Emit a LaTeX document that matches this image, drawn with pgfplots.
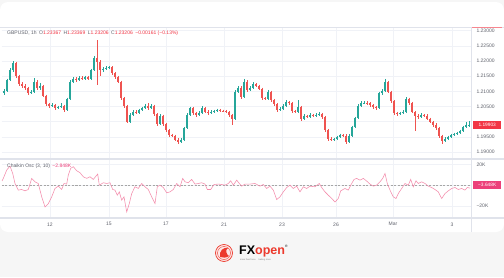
\documentclass[border=0pt]{standalone}
\usepackage{pgfplots}
\usepackage{pgfplotstable}
\pgfplotsset{compat=1.18}
\usepackage{fontspec}
\setmainfont{Liberation Sans}
\definecolor{upc}{RGB}{38,166,154}
\definecolor{dnc}{RGB}{239,83,80}
\definecolor{gridc}{RGB}{240,242,247}
\definecolor{sepc}{RGB}{224,227,235}
\definecolor{txtc}{RGB}{95,98,108}
\definecolor{oscc}{RGB}{244,140,172}
\definecolor{oscbox}{RGB}{236,64,122}
\definecolor{pricered}{RGB}{242,54,69}
\definecolor{fxred}{RGB}{236,58,45}
\definecolor{bgc}{RGB}{246,246,246}

\pgfplotstableread{
x o h l c
4 1.2094 1.2108 1.2088 1.2101
7 1.2101 1.2142 1.2097 1.2137
10 1.2137 1.2176 1.2133 1.2170
13 1.2170 1.2199 1.2165 1.2193
31 1.2094 1.2104 1.2090 1.2098
34 1.2098 1.2144 1.2095 1.2131
40 1.2111 1.2128 1.2106 1.2118
52 1.2052 1.2061 1.2048 1.2055
58 1.2045 1.2053 1.2041 1.2048
61 1.2048 1.2060 1.2044 1.2052
67 1.2038 1.2079 1.2035 1.2075
70 1.2075 1.2136 1.2072 1.2131
73 1.2131 1.2147 1.2126 1.2141
79 1.2137 1.2150 1.2133 1.2144
85 1.2142 1.2152 1.2139 1.2147
91 1.2141 1.2175 1.2138 1.2170
94 1.2170 1.2216 1.2166 1.2210
103 1.2170 1.2180 1.2165 1.2174
106 1.2174 1.2182 1.2170 1.2177
109 1.2177 1.2184 1.2173 1.2179
130 1.1999 1.2027 1.1995 1.2022
133 1.2022 1.2038 1.2018 1.2032
139 1.2030 1.2043 1.2026 1.2038
142 1.2038 1.2050 1.2034 1.2045
145 1.2045 1.2059 1.2041 1.2052
151 1.2045 1.2058 1.2041 1.2052
160 1.1992 1.2024 1.1988 1.2019
181 1.1933 1.1945 1.1929 1.1940
184 1.1940 1.1983 1.1936 1.1979
187 1.1979 1.2027 1.1975 1.2022
190 1.2022 1.2050 1.2018 1.2045
199 1.2022 1.2034 1.2018 1.2028
202 1.2028 1.2051 1.2024 1.2045
211 1.2028 1.2038 1.2024 1.2032
214 1.2032 1.2040 1.2028 1.2035
217 1.2035 1.2043 1.2031 1.2038
235 1.2008 1.2104 1.2004 1.2098
238 1.2098 1.2117 1.2093 1.2111
244 1.2081 1.2141 1.2077 1.2131
250 1.2104 1.2117 1.2100 1.2111
253 1.2111 1.2130 1.2107 1.2124
268 1.2075 1.2105 1.2071 1.2098
280 1.2038 1.2047 1.2034 1.2042
283 1.2042 1.2057 1.2038 1.2052
286 1.2052 1.2070 1.2048 1.2065
298 1.2032 1.2071 1.2028 1.2048
304 1.2009 1.2024 1.2005 1.2019
310 1.2017 1.2027 1.2013 1.2022
316 1.2020 1.2028 1.2016 1.2023
319 1.2023 1.2032 1.2019 1.2025
334 1.1940 1.1947 1.1936 1.1942
337 1.1942 1.1954 1.1938 1.1949
340 1.1949 1.1961 1.1945 1.1956
349 1.1933 1.1958 1.1929 1.1953
352 1.1953 1.1987 1.1949 1.1982
355 1.1982 1.2017 1.1978 1.2012
358 1.2012 1.2057 1.2008 1.2052
361 1.2052 1.2067 1.2048 1.2061
364 1.2061 1.2068 1.2057 1.2063
379 1.2045 1.2099 1.2041 1.2094
382 1.2094 1.2107 1.2089 1.2101
385 1.2101 1.2141 1.2097 1.2131
400 1.2025 1.2033 1.2021 1.2028
403 1.2028 1.2038 1.2024 1.2032
406 1.2032 1.2081 1.2028 1.2075
421 1.2015 1.2027 1.2011 1.2022
445 1.1936 1.1948 1.1932 1.1943
448 1.1943 1.1954 1.1939 1.1949
451 1.1949 1.1961 1.1945 1.1956
454 1.1956 1.1964 1.1952 1.1959
457 1.1959 1.1967 1.1955 1.1962
460 1.1962 1.1974 1.1958 1.1969
463 1.1969 1.1987 1.1965 1.1982
466 1.1982 1.1999 1.1978 1.1989
469 1.1989 1.2003 1.1984 1.1990
}\updata

\pgfplotstableread{
x o h l c
16 1.2193 1.2197 1.2144 1.2150
19 1.2150 1.2155 1.2119 1.2124
22 1.2124 1.2130 1.2112 1.2118
25 1.2118 1.2124 1.2105 1.2111
28 1.2111 1.2115 1.2088 1.2094
37 1.2131 1.2136 1.2105 1.2111
43 1.2118 1.2121 1.2080 1.2085
46 1.2085 1.2089 1.2052 1.2058
49 1.2058 1.2063 1.2046 1.2052
55 1.2055 1.2059 1.2040 1.2045
64 1.2052 1.2056 1.2031 1.2038
76 1.2141 1.2146 1.2132 1.2137
82 1.2144 1.2149 1.2137 1.2142
88 1.2147 1.2151 1.2137 1.2141
97 1.2210 1.2269 1.2121 1.2197
100 1.2197 1.2203 1.2150 1.2170
112 1.2179 1.2183 1.2155 1.2160
115 1.2160 1.2164 1.2142 1.2147
118 1.2147 1.2151 1.2126 1.2131
121 1.2131 1.2135 1.2072 1.2078
124 1.2078 1.2082 1.2046 1.2052
127 1.2052 1.2056 1.1994 1.1999
136 1.2032 1.2037 1.2025 1.2030
148 1.2052 1.2060 1.2040 1.2045
154 1.2052 1.2056 1.2020 1.2025
157 1.2025 1.2029 1.1985 1.1992
163 1.2019 1.2023 1.1986 1.1992
166 1.1992 1.1996 1.1966 1.1972
169 1.1972 1.1976 1.1951 1.1956
172 1.1956 1.1961 1.1948 1.1953
175 1.1953 1.1957 1.1935 1.1940
178 1.1940 1.1945 1.1927 1.1933
193 1.2045 1.2049 1.2023 1.2028
196 1.2028 1.2033 1.2017 1.2022
205 1.2045 1.2049 1.2027 1.2032
208 1.2032 1.2037 1.2023 1.2028
220 1.2038 1.2042 1.2032 1.2036
223 1.2036 1.2040 1.2031 1.2035
226 1.2035 1.2039 1.2027 1.2032
229 1.2032 1.2036 1.2017 1.2022
232 1.2022 1.2026 1.1989 1.2008
241 1.2111 1.2116 1.2076 1.2081
247 1.2131 1.2136 1.2099 1.2104
256 1.2124 1.2128 1.2113 1.2118
259 1.2118 1.2122 1.2103 1.2108
262 1.2108 1.2112 1.2072 1.2078
265 1.2078 1.2083 1.2070 1.2075
271 1.2098 1.2102 1.2066 1.2071
274 1.2071 1.2075 1.2053 1.2058
277 1.2058 1.2062 1.2033 1.2038
289 1.2065 1.2069 1.2056 1.2061
292 1.2061 1.2065 1.2030 1.2035
295 1.2035 1.2040 1.2027 1.2032
301 1.2048 1.2052 1.2003 1.2009
307 1.2019 1.2023 1.2012 1.2017
313 1.2022 1.2026 1.2016 1.2020
322 1.2025 1.2029 1.2010 1.2015
325 1.2015 1.2019 1.1966 1.1972
328 1.1972 1.1976 1.1937 1.1943
331 1.1943 1.1948 1.1935 1.1940
343 1.1956 1.1960 1.1949 1.1954
346 1.1954 1.1958 1.1927 1.1933
367 1.2063 1.2067 1.2055 1.2060
370 1.2060 1.2064 1.2050 1.2055
373 1.2055 1.2059 1.2043 1.2048
376 1.2048 1.2052 1.2040 1.2045
388 1.2131 1.2135 1.2093 1.2098
391 1.2098 1.2102 1.2063 1.2068
394 1.2068 1.2072 1.2023 1.2028
397 1.2028 1.2033 1.2020 1.2025
409 1.2075 1.2079 1.2056 1.2061
412 1.2061 1.2065 1.2027 1.2032
415 1.2032 1.2036 1.1970 1.2019
418 1.2019 1.2024 1.2010 1.2015
424 1.2022 1.2026 1.2016 1.2020
427 1.2020 1.2024 1.2004 1.2009
430 1.2009 1.2013 1.1994 1.1999
433 1.1999 1.2003 1.1984 1.1989
436 1.1989 1.1994 1.1974 1.1979
439 1.1979 1.1983 1.1947 1.1953
442 1.1953 1.1957 1.1927 1.1936
}\dndata

\pgfplotstableread{
x v
2 4.0
3.3 6.5
6.7 14.5
10 18.4
12.7 11.3
15 1.6
18.3 -4.8
21.7 -4.2
25 -5.5
28.3 -4.2
31.7 6.5
35 3.2
38.3 1.6
41.7 -11.3
45 -21.0
48.3 -17.8
51.7 -11.3
55 -3.2
58.3 -1.0
61.7 -4.2
64 1.6
66.7 1.0
68.3 9.7
70.7 16.2
73.3 17.8
76.7 13.9
80 12.0
83.3 8.1
86.7 6.5
90 8.1
93.3 5.5
96 8.7
97.7 10.7
99.3 0
103.3 2.3
106.7 1.6
110 2.3
112.7 -4.2
115 -4.8
117.3 -9.7
119.3 -6.5
121.7 -14.5
124 -11.3
126.7 -25.8
129.3 -17.8
131.7 -8.1
135 -1.6
138.3 -3.2
141.7 1.6
145 -1.6
148.3 -4.2
151.7 -11.3
155 -17.8
157.3 -1.6
160 0
163.3 -2.3
166.7 -7.4
170 -6.5
173.3 -4.2
176.7 1.6
180 -1.6
182.7 6.5
185 3.2
188.3 2.3
191.7 5.5
195 1.0
198.3 1.6
201.7 2.3
205 1.0
207.3 -4.2
210.7 -4.2
214 0.6
218.3 1.0
221.7 0.6
225 0
228.3 1.6
230.7 4.2
233.3 0
236.7 4.8
239.3 1.6
241.7 -1.0
245 1.0
250 1.0
255 1.6
260 -1.0
263.3 0.6
266.7 -3.2
270 -1.0
273.3 -4.8
276.7 -13.9
280 -11.3
283.3 -6.5
286.7 -2.3
290 0
293.3 -3.2
296.7 -1.0
300 -6.5
303.3 -1.6
306.7 -3.2
310 -1.0
315 -1.6
319.3 1.6
321.7 -2.3
325 -6.5
328.3 -9.7
331.7 -12.9
335 -16.2
338.3 -12.9
340.7 -5.5
345 -3.2
348.3 -4.8
351.7 1.6
354 5.5
356.7 6.5
360 4.8
363.3 6.5
366.7 3.9
370 1.0
373.3 -1.0
376.7 0
380 3.2
382.7 6.5
385 11.3
387.3 1.6
390 -4.8
393.3 -11.3
396 -12.9
398.3 -8.1
401.7 -3.2
405 1.6
408.3 0
410.7 5.5
413.3 -1.6
416 4.2
418.3 1.6
421.7 3.2
425 1.6
428.3 -1.0
431.7 -2.3
435 -4.2
438.3 -6.5
441.7 -12.9
445 -8.1
448.3 -5.5
451.7 -3.2
455 -2.3
458.3 -4.2
461.7 -3.2
465 -4.8
467.3 -2.3
470 -2.85
}\oscdata

\begin{document}
\begin{tikzpicture}[x=1pt,y=1pt]
\useasboundingbox (0,0) rectangle (504,277);
\fill[bgc] (0,0) rectangle (504,277);
\fill[white, rounded corners=8pt] (0,45) rectangle (504,275);

\begin{axis}[
  at={(2pt,118pt)}, anchor=south west, scale only axis,
  width=469pt, height=132pt,
  xmin=2, xmax=471, ymin=1.18769, ymax=1.23122,
  axis line style={draw=none},
  xtick={50,109,166,224,282,336,393,452}, xticklabels={},
  ytick={1.19,1.195,1.2,1.205,1.21,1.215,1.22,1.225,1.23},
  yticklabels={1.19000,1.19500,,1.20500,1.21000,1.21500,1.22000,1.22500,1.23000},
  yticklabel pos=right,
  scaled y ticks=false,
  grid=major, major grid style={gridc, line width=0.5pt},
  major tick length=0pt,
  tick label style={font=\fontsize{5}{6}\selectfont, text=txtc},
  yticklabel style={xshift=2pt},
]
\addplot[forget plot, draw=none, mark=none, error bars/.cd, y dir=minus, y explicit, error mark=none, error bar style={draw=upc, line width=0.45pt}]
  table[x=x, y=h, y error minus expr=\thisrow{h}-\thisrow{l}] {\updata};
\addplot[forget plot, draw=none, mark=none, error bars/.cd, y dir=minus, y explicit, error mark=none, error bar style={draw=dnc, line width=0.45pt}]
  table[x=x, y=h, y error minus expr=\thisrow{h}-\thisrow{l}] {\dndata};
\addplot[forget plot, draw=none, mark=none, error bars/.cd, y dir=minus, y explicit, error mark=none, error bar style={draw=upc, line width=1.5pt}]
  table[x=x, y=c, y error minus expr=\thisrow{c}-\thisrow{o}] {\updata};
\addplot[forget plot, draw=none, mark=none, error bars/.cd, y dir=minus, y explicit, error mark=none, error bar style={draw=dnc, line width=1.5pt}]
  table[x=x, y=o, y error minus expr=\thisrow{o}-\thisrow{c}] {\dndata};
\end{axis}

\begin{axis}[
  at={(2pt,59pt)}, anchor=south west, scale only axis,
  width=469pt, height=59pt,
  xmin=2, xmax=471, ymin=-31.7, ymax=25.2,
  axis line style={draw=none},
  xtick={50,109,166,224,282,336,393,452},
  xticklabels={12,15,17,21,23,26,Mar,3},
  ytick={-20,0,20}, yticklabels={−20K,0,20K},
  yticklabel pos=right,
  grid=major, major grid style={gridc, line width=0.5pt},
  major tick length=0pt,
  tick label style={font=\fontsize{5}{6}\selectfont, text=txtc},
  yticklabel style={xshift=2pt},
  xticklabel style={yshift=-1pt},
]
\addplot[gray!70, line width=0.4pt, dash pattern=on 2pt off 1.5pt] coordinates {(2,0) (471,0)};
\addplot[oscc, line width=0.55pt] table[x=x, y=v] {\oscdata};
\end{axis}

\draw[sepc, line width=1.2pt] (0,118) -- (504,118);
\draw[sepc, line width=1.2pt] (0,59) -- (504,59);
\draw[sepc, line width=0.8pt] (471.5,45) -- (471.5,250);
\draw[sepc, line width=0.5pt] (0,250) -- (504,250);
\draw[pricered!60, line width=0.6pt] (472,250) -- (502,250);

\node[fill=pricered, text=white, font=\fontsize{4.8}{5}\selectfont, inner sep=1.3pt, anchor=west, minimum height=8pt, minimum width=28pt] at (473,152.4) {1.19903};
\node[fill=oscbox, text=white, font=\fontsize{4.8}{5}\selectfont, inner sep=1.3pt, anchor=west, minimum height=8pt, minimum width=28pt] at (473,92) {−3.648K};

\node[anchor=west, inner sep=0, font=\fontsize{5}{6}\selectfont] at (7,244)
 {\textcolor{txtc}{GBPUSD, 1h}\enspace\textcolor{txtc}{O}\textcolor{pricered}{1.23367}\enspace\textcolor{txtc}{H}\textcolor{pricered}{1.23369}\enspace\textcolor{txtc}{L}\textcolor{pricered}{1.23206}\enspace\textcolor{txtc}{C}\textcolor{pricered}{1.23206}\enspace\textcolor{pricered}{−0.00161 (−0.13\%)}};
\node[anchor=west, inner sep=0, font=\fontsize{5}{6}\selectfont] at (7,111)
 {\textcolor{txtc}{Chaikin Osc (3, 10)}\enspace\textcolor{oscbox}{−2.848K}};

% logo
\fill[fxred!12] (224,24) circle (8.5);
\draw[fxred, line width=0.7pt] (224,24) circle (8.5);
\draw[fxred, line width=0.4pt] (224,24) circle (6.5);
\fill[fxred] (220,20) .. controls (219,26) and (223,30) .. (228,29) .. controls (225,27) and (226,23) .. (229,21) .. controls (226,19) and (223,19) .. cycle;
\node[anchor=west, inner sep=0, font=\fontsize{12.5}{13}\selectfont\bfseries] at (239,26) {\textcolor{black}{FX}\textcolor{fxred}{open}};
\node[anchor=west, inner sep=0, font=\fontsize{3.5}{4}\selectfont] at (285,31) {®};
\node[anchor=west, inner sep=0, font=\fontsize{2.2}{3}\selectfont, text=gray] at (240,17.5) {\textsc{more than forex} \quad \textsc{trading since}};
\end{tikzpicture}
\end{document}
